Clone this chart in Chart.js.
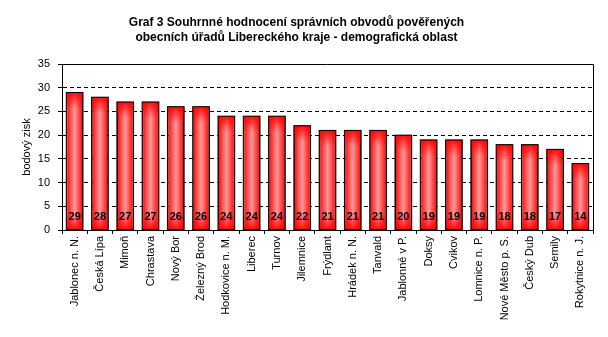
<!DOCTYPE html>
<html>
<head>
<meta charset="utf-8">
<script src="https://cdn.jsdelivr.net/npm/chart.js@4"></script>
<style>
  html, body { margin: 0; padding: 0; background: #fff; }
  #wrap { width: 608px; height: 337px; }
</style>
</head>
<body>
<div id="wrap"><canvas id="myBarChart" width="608" height="337"></canvas></div>
<script>
const titleLines = [
    "Graf 3 Souhrnné hodnocení správních obvodů pověřených",
    "obecních úřadů Libereckého kraje - demografická oblast",
];
const towns = [
    "Jablonec n. N.", "Česká Lípa", "Mimoň", "Chrastava", "Nový Bor",
    "Železný Brod", "Hodkovice n. M.", "Liberec", "Turnov", "Jilemnice",
    "Frýdlant", "Hrádek n. N.", "Tanvald", "Jablonné v P.", "Doksy",
    "Cvikov", "Lomnice n. P.", "Nové Město p. S.", "Český Dub", "Semily",
    "Rokytnice n. J.",
];
const points = [29, 28, 27, 27, 26, 26, 24, 24, 24, 22, 21, 21, 21, 20, 19, 19, 19, 18, 18, 17, 14];
const yTicks = [0, 5, 10, 15, 20, 25, 30, 35];
const yLabel = "bodový zisk";

const barPct = 0.66;
const font = "'Liberation Sans', Arial, sans-serif";

// red bar shaded lighter toward its middle
function barFill(c) {
    const chart = c.chart;
    const area = chart.chartArea;
    const xs = chart.scales.x;
    if (!area || !xs) return "#ff0000";
    const cx = xs.getPixelForValue(c.dataIndex);
    const half = (area.right - area.left) / towns.length * barPct / 2;
    const g = chart.ctx.createLinearGradient(cx - half, 0, cx + half, 0);
    g.addColorStop(0, "#ff0000");
    g.addColorStop(0.5, "#ff9a9a");
    g.addColorStop(1, "#ff0000");
    return g;
}

// darker red fading in at the top and bottom ends of each bar
function shadeEnds(ctx, bar) {
    const left = bar.x - bar.width / 2;
    const top = bar.y;
    const bottom = bar.base;
    const len = Math.min(16, (bottom - top) / 2);

    let g = ctx.createLinearGradient(0, top, 0, top + len);
    g.addColorStop(0, "rgba(255,0,0,0.9)");
    g.addColorStop(1, "rgba(255,0,0,0)");
    ctx.fillStyle = g;
    ctx.fillRect(left, top, bar.width, len);

    g = ctx.createLinearGradient(0, bottom, 0, bottom - len);
    g.addColorStop(0, "rgba(255,0,0,0.9)");
    g.addColorStop(1, "rgba(255,0,0,0)");
    ctx.fillStyle = g;
    ctx.fillRect(left, bottom - len, bar.width, len);

    ctx.strokeStyle = "#000";
    ctx.lineWidth = 1;
    ctx.strokeRect(left, top, bar.width, bottom - top);
}

// solid frame on top/right + numbers at the foot of each bar
const framePlugin = {
    id: "frameAndValues",
    afterDatasetsDraw(chart) {
        const { ctx, chartArea: a } = chart;
        const ys = chart.scales.y;
        const bars = chart.getDatasetMeta(0).data;
        ctx.save();

        bars.forEach((bar) => shadeEnds(ctx, bar));

        ctx.strokeStyle = "#000";
        ctx.lineWidth = 1;
        ctx.setLineDash([]);
        ctx.beginPath();
        ctx.moveTo(a.left, a.top + 0.5);
        ctx.lineTo(a.right + 0.5, a.top + 0.5);
        ctx.lineTo(a.right + 0.5, a.bottom);
        ctx.stroke();

        ctx.font = "bold 11px " + font;
        ctx.fillStyle = "#000";
        ctx.textAlign = "center";
        ctx.textBaseline = "middle";
        bars.forEach((bar, i) => {
            ctx.fillText(points[i], bar.x, ys.getPixelForValue(0) - 13);
        });
        ctx.restore();
    },
};

const ctx = document.getElementById("myBarChart").getContext("2d");

new Chart(ctx, {
    type: "bar",
    data: {
        labels: towns,
        datasets: [
            {
                label: yLabel,
                data: points,
                backgroundColor: barFill,
                borderColor: "#000",
                borderWidth: 1,
                borderSkipped: false,
                barPercentage: barPct,
                categoryPercentage: 1,
            },
        ],
    },
    options: {
        responsive: false,
        animation: false,
        layout: {
            padding: { left: 0, right: 15, top: 0, bottom: 0 },
        },
        plugins: {
            legend: { display: false },
            tooltip: { enabled: false },
            title: {
                display: true,
                text: titleLines,
                color: "#000",
                font: { family: font, size: 12, weight: "bold", lineHeight: 1.25 },
                padding: { top: 15, bottom: 19 },
            },
        },
        scales: {
            y: {
                min: 0,
                max: 35,
                afterFit: (s) => { s.width = 62; },
                afterBuildTicks: (s) => { s.ticks = yTicks.map((v) => ({ value: v })); },
                ticks: {
                    color: "#000",
                    font: { family: font, size: 11 },
                    padding: 8,
                },
                grid: {
                    color: "#000",
                    tickColor: "#000",
                    tickLength: 4,
                    lineWidth: 1,
                    borderDash: [4, 3],
                    tickBorderDash: [],
                },
                border: { color: "#000", dash: [4, 3] },
                title: {
                    display: true,
                    text: yLabel,
                    color: "#000",
                    font: { family: font, size: 11 },
                    padding: { top: 20, bottom: 0 },
                },
            },
            x: {
                afterFit: (s) => { s.height = 107; },
                ticks: {
                    color: "#000",
                    font: { family: font, size: 11 },
                    minRotation: 90,
                    maxRotation: 90,
                    autoSkip: false,
                    padding: 2,
                },
                grid: {
                    offset: true,
                    drawOnChartArea: false,
                    color: "#000",
                    tickLength: 4,
                },
                border: { color: "#000" },
            },
        },
    },
    plugins: [framePlugin],
});
</script>
</body>
</html>
